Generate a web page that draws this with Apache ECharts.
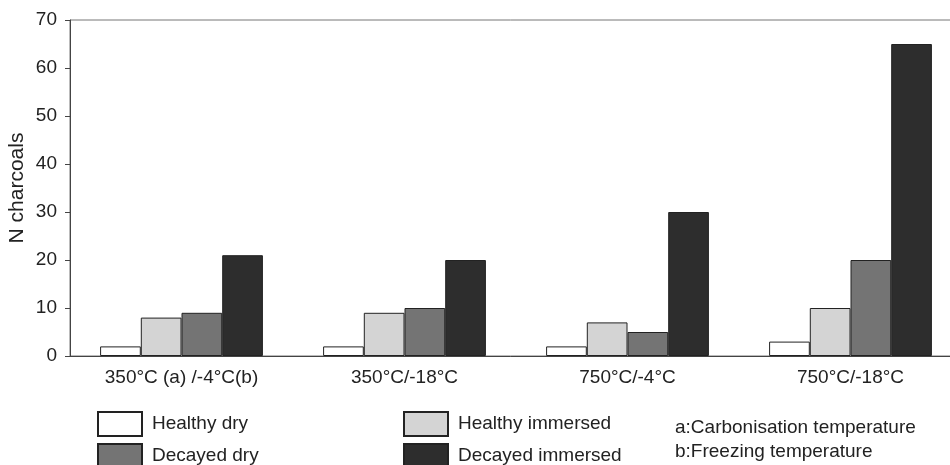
<!DOCTYPE html>
<html><head><meta charset="utf-8">
<script src="https://cdn.jsdelivr.net/npm/echarts@6/dist/echarts.min.js"></script>
<style>html,body{margin:0;padding:0;background:#fff}#c{width:950px;height:465px}</style>
</head><body><div id="c"></div>
<script>
const categories = ['350°C (a) /-4°C(b)', '350°C/-18°C', '750°C/-4°C', '750°C/-18°C'];
const healthyDry = [2, 2, 2, 3];
const healthyImmersed = [8, 9, 7, 10];
const decayedDry = [9, 10, 5, 20];
const decayedImmersed = [21, 20, 30, 65];
const yTicks = [0, 10, 20, 30, 40, 50, 60, 70];
const notes = ['a:Carbonisation temperature', 'b:Freezing temperature'];

const font = 'Liberation Sans, Arial, sans-serif';
const txt = '#222';
function bar(name, data, color) {
  return { name, type: 'bar', data, barGap: '0%', barCategoryGap: '27%',
    itemStyle: { color, borderColor: '#222', borderWidth: 1 } };
}
const legendCommon = { orient: 'vertical', top: 411, height: 80, padding: 0,
  itemWidth: 44, itemHeight: 24, itemGap: 6, icon: 'rect',
  textStyle: { color: txt, fontSize: 19, fontFamily: font, padding: [0, 0, 0, 5] } };
const chart = echarts.init(document.getElementById('c'));
chart.setOption({
  animation: false,
  grid: { left: 70, width: 892, top: 20, height: 336, outerBoundsMode: 'none', containLabel: false,
    show: true, borderColor: '#777', borderWidth: 1, backgroundColor: 'transparent' },
  xAxis: { type: 'category', data: categories,
    axisLine: { lineStyle: { color: '#444', width: 1 } },
    axisTick: { length: 6, lineStyle: { color: '#444' } },
    axisLabel: { color: txt, fontSize: 19, fontFamily: font, margin: 12 } },
  yAxis: { type: 'value', min: yTicks[0], max: yTicks[yTicks.length - 1], interval: 10,
    name: 'N charcoals', nameLocation: 'middle', nameGap: 42, nameMoveOverlap: false,
    nameTextStyle: { color: txt, fontSize: 21, fontFamily: font },
    axisLine: { show: true, lineStyle: { color: '#444' } },
    axisTick: { show: true, length: 5, lineStyle: { color: '#444' } },
    splitLine: { show: false },
    axisLabel: { color: txt, fontSize: 19, fontFamily: font, margin: 13 } },
  legend: [
    Object.assign({ data: ['Healthy dry', 'Decayed dry'], left: 97 }, legendCommon),
    Object.assign({ data: ['Healthy immersed', 'Decayed immersed'], left: 403 }, legendCommon)
  ],
  graphic: notes.map((t, i) => ({ type: 'text', x: 675, y: 428 + i * 24,
    style: { text: t, fill: txt, fontSize: 19, fontFamily: font, verticalAlign: 'middle' } })),
  series: [
    bar('Healthy dry', healthyDry, '#ffffff'),
    bar('Healthy immersed', healthyImmersed, '#d4d4d4'),
    bar('Decayed dry', decayedDry, '#747474'),
    bar('Decayed immersed', decayedImmersed, '#2d2d2d')
  ]
});
</script></body></html>
